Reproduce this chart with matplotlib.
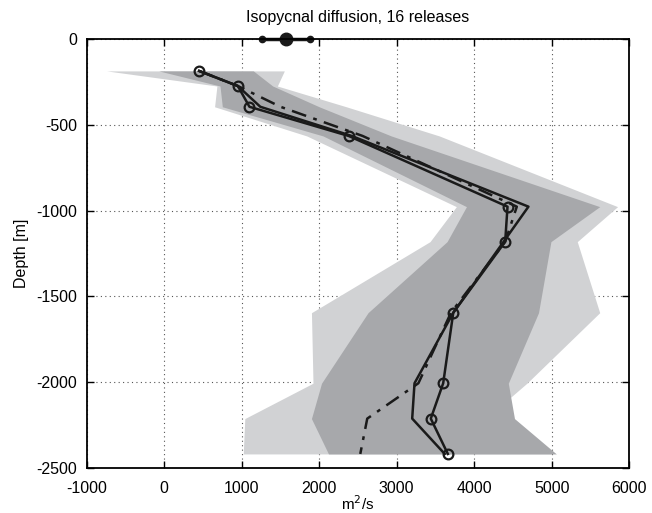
import numpy as np
import matplotlib
matplotlib.use('Agg')
import matplotlib.pyplot as plt

plt.rcParams['font.family'] = ['Liberation Sans', 'DejaVu Sans']
plt.rcParams['axes.unicode_minus'] = False

# Depth levels of the releases (m)
depth = [-186, -274, -395, -565, -977, -1181, -1595, -2006, -2212, -2418]

# Outer (light) band
light_lo = [-743, 680, 650, 1840, 3770, 3430, 1900, 1920, 1040, 1020]
light_hi = [1550, 1460, 2350, 3550, 5850, 5330, 5620, 4680, 4150, 5000]

# Inner (dark) band
dark_lo = [-70, 720, 750, 2050, 3900, 3650, 2630, 2030, 1900, 2120]
dark_hi = [1150, 1400, 2000, 2930, 5620, 4990, 4830, 4440, 4520, 5060]

# Estimates
k_circ = [450, 950, 1100, 2380, 4430, 4400, 3730, 3600, 3440, 3660]
k_solid = [450, 950, 1240, 2420, 4700, 4380, 3730, 3230, 3200, 3620]
k_dashdot = [450, 950, 1500, 2560, 4550, 4400, 3700, 3280, 2620, 2530]

# Surface estimate (value and range)
surf_val = 1570
surf_lo = 1260
surf_hi = 1880

fig = plt.figure(figsize=(6.52, 5.13), dpi=100)
ax = fig.add_axes([0.133, 0.0877, 0.832, 0.8363])

ax.fill_betweenx(depth, light_lo, light_hi, color='#d1d2d4', lw=0, zorder=1)
ax.fill_betweenx(depth, dark_lo, dark_hi, color='#a7a8ab', lw=0, zorder=2)

ax.plot(k_dashdot, depth, color='#1a1a1a', lw=1.8, ls=(0, (6, 3, 1.5, 3)), zorder=4)
ax.plot(k_solid, depth, '-', color='#1a1a1a', lw=1.8, zorder=4)
ax.plot(k_circ, depth, '-', color='#1a1a1a', lw=1.8, marker='o', ms=7,
        mfc='none', mec='#1a1a1a', mew=1.6, zorder=5)

# surface value with its range
ax.plot([surf_lo, surf_hi], [0, 0], '-', color='#1a1a1a', lw=2.5, clip_on=False, zorder=6)
ax.plot([surf_lo, surf_hi], [0, 0], 'o', color='#1a1a1a', ms=4.5, clip_on=False, zorder=6)
ax.plot([surf_val], [0], 'o', color='#1a1a1a', ms=9, clip_on=False, zorder=7)

ax.set_xlim(-1000, 6000)
ax.set_ylim(-2500, 0)
ax.set_xticks(np.arange(-1000, 6001, 1000))
ax.set_yticks(np.arange(-2500, 1, 500))
ax.grid(True, linestyle=(0, (1, 3)), color='#555555', lw=0.8)
ax.set_axisbelow(True)
ax.tick_params(direction='in', top=True, right=True, labelsize=11.5, length=5, width=1)
ax.tick_params(axis='x', pad=9)
ax.tick_params(axis='y', pad=7)
for s in ax.spines.values():
    s.set_linewidth(1.3)
    s.set_zorder(8)

ax.set_title('Isopycnal diffusion, 16 releases', fontsize=11.5, pad=12)
ax.set_xlabel('m$^2$/s', fontsize=11, labelpad=-1)
ax.set_ylabel('Depth [m]', fontsize=11.5, labelpad=5)

fig.savefig('out.png', dpi=100)
